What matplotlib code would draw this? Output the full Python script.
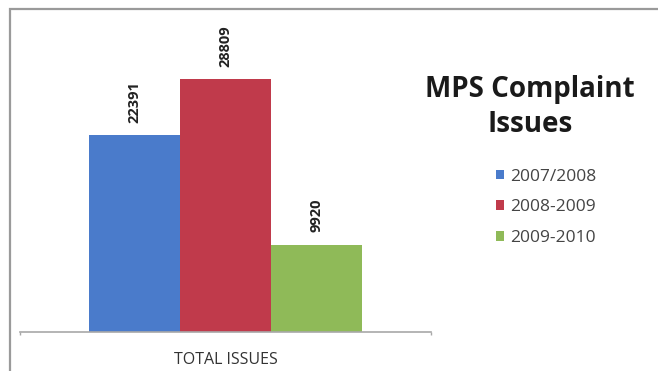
import matplotlib.pyplot as plt
from matplotlib.patches import Rectangle
import numpy as np

# chart data
category = 'TOTAL ISSUES'
seasons = ['2007/2008', '2008-2009', '2009-2010']
issues = [22391, 28809, 9920]
colors = ['#4a7bcb', '#c03a4b', '#8fba58']

plt.rcParams['font.family'] = ['Open Sans', 'DejaVu Sans']

fig = plt.figure(figsize=(6.58, 3.71), dpi=100)
W, H = 658, 371

# outer chart frame (runs off the right and bottom edges)
fig.patches.append(Rectangle((10 / W, -0.1), 1.2, (H - 9) / H + 0.1,
                             transform=fig.transFigure, fill=False,
                             edgecolor='#9a9a9a', linewidth=1.6))

ax = fig.add_axes([20 / W, 39 / H, 411 / W, 292 / H])
ax.set_xlim(-0.5, 0.5)
ax.set_ylim(0, 292 / 0.00878)

bw = 91 / 411
offsets = (np.arange(len(issues)) - 1) * bw
bars = ax.bar(offsets, issues, width=bw, color=colors, edgecolor='none',
              label=seasons)

for b, v in zip(bars, issues):
    ax.annotate(str(v), (b.get_x() + b.get_width() / 2, v),
                xytext=(0, 9), textcoords='offset points',
                rotation=90, ha='center', va='bottom',
                fontsize=10.5, fontweight='bold', color='#222222')

for s in ['left', 'right', 'top']:
    ax.spines[s].set_visible(False)
ax.spines['bottom'].set_color('#a8a8a8')
ax.spines['bottom'].set_linewidth(1.2)
ax.set_yticks([])
ax.set_xticks([-0.5, 0.5])
ax.set_xticklabels([])
ax.tick_params(axis='x', length=2, color='#a8a8a8', width=1)
ax.text(0, -0.07, category, transform=ax.get_xaxis_transform(),
        ha='center', va='top', fontsize=11.5, color='#333333')

fig.text(530 / W, 1 - 107 / H, 'MPS Complaint\nIssues', ha='center',
         va='center', fontsize=20, fontweight='bold', color='#1a1a1a',
         linespacing=1.25)

leg = fig.legend(handles=bars, labels=seasons, loc='upper left',
                 bbox_to_anchor=(480 / W, 1 - 153 / H), frameon=False,
                 fontsize=12.5, handlelength=0.5, handleheight=0.5,
                 handletextpad=0.35, labelspacing=0.85, labelcolor='#444444')

fig.savefig('out.png', dpi=100)
